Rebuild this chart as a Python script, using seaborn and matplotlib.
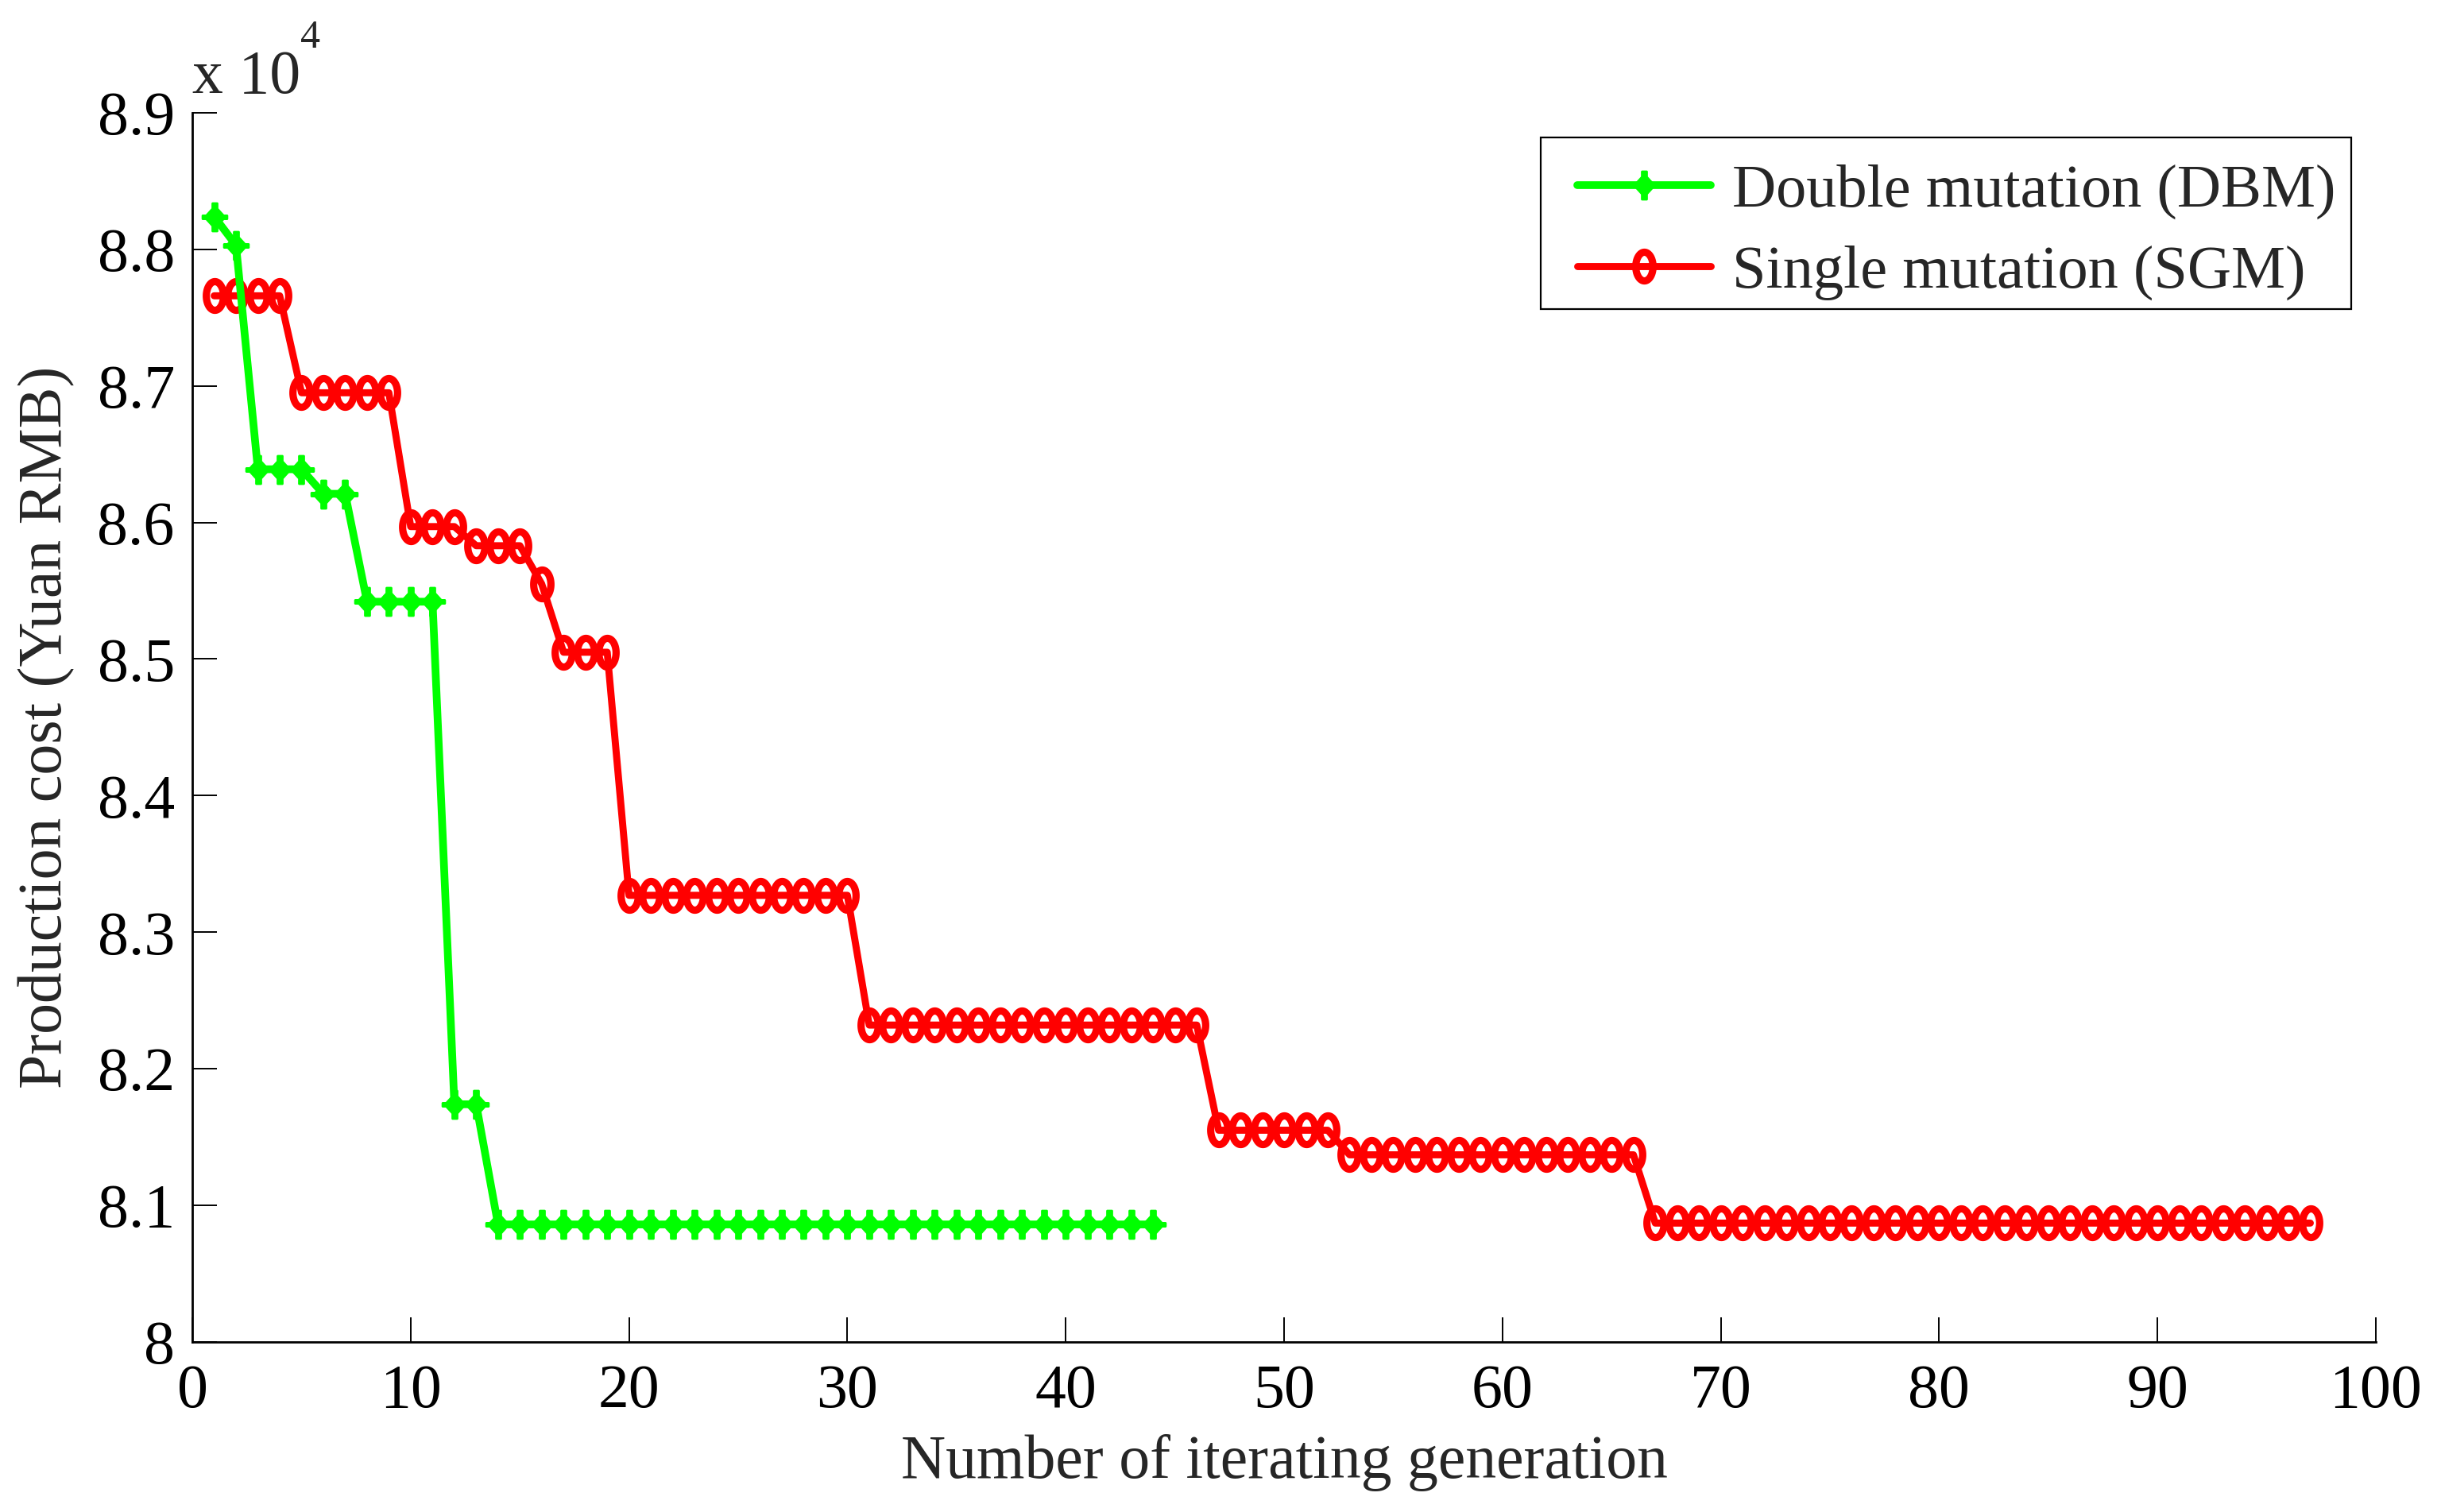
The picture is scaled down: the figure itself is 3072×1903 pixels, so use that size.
import numpy as np
import pandas as pd
import matplotlib
matplotlib.use("Agg")
import matplotlib.pyplot as plt
from matplotlib.path import Path
from matplotlib.patches import Rectangle
from matplotlib.ticker import FuncFormatter
import seaborn as sns

# production cost (Yuan RMB) per iterating generation
dbm_gen = list(range(1, 45))
dbm_cost = [88240, 88030, 86390, 86390, 86390, 86210, 86210, 85420, 85420, 85420,
            85420, 81740, 81740, 80860, 80860, 80860, 80860, 80860, 80860, 80860,
            80860, 80860, 80860, 80860, 80860, 80860, 80860, 80860, 80860, 80860,
            80860, 80860, 80860, 80860, 80860, 80860, 80860, 80860, 80860, 80860,
            80860, 80860, 80860, 80860]

sgm_gen = list(range(1, 98))
sgm_cost = [87660, 87660, 87660, 87660, 86950, 86950, 86950, 86950, 86950, 85970,
            85970, 85970, 85830, 85830, 85830, 85550, 85050, 85050, 85050, 83270,
            83270, 83270, 83270, 83270, 83270, 83270, 83270, 83270, 83270, 83270,
            82320, 82320, 82320, 82320, 82320, 82320, 82320, 82320, 82320, 82320,
            82320, 82320, 82320, 82320, 82320, 82320, 81550, 81550, 81550, 81550,
            81550, 81550, 81370, 81370, 81370, 81370, 81370, 81370, 81370, 81370,
            81370, 81370, 81370, 81370, 81370, 81370, 80870, 80870, 80870, 80870,
            80870, 80870, 80870, 80870, 80870, 80870, 80870, 80870, 80870, 80870,
            80870, 80870, 80870, 80870, 80870, 80870, 80870, 80870, 80870, 80870,
            80870, 80870, 80870, 80870, 80870, 80870, 80870]

x_ticks = [0, 10, 20, 30, 40, 50, 60, 70, 80, 90, 100]
y_ticks = [8, 8.1, 8.2, 8.3, 8.4, 8.5, 8.6, 8.7, 8.8, 8.9]

dbm = pd.DataFrame({"gen": dbm_gen, "cost": np.array(dbm_cost) / 1e4})
sgm = pd.DataFrame({"gen": sgm_gen, "cost": np.array(sgm_cost) / 1e4})

sns.set_style("ticks")
plt.rcParams["font.family"] = ["Liberation Serif", "DejaVu Serif"]

# matlab-like markers (stretched vertically as in the figure)
t = np.linspace(0, 2 * np.pi, 73)
ring = Path(np.column_stack([0.6 * np.cos(t), np.sin(t)]), closed=True)
# filled diamond with short spikes, drawn as one outline
diamond = Path(
    [(-0.17, 1), (0.17, 1), (0.17, 0.614), (0.62, 0.12), (0.88, 0.12),
     (0.88, -0.12), (0.62, -0.12), (0.17, -0.614), (0.17, -1), (-0.17, -1),
     (-0.17, -0.614), (-0.62, -0.12), (-0.88, -0.12), (-0.88, 0.12),
     (-0.62, 0.12), (-0.17, 0.614), (-0.17, 1)],
    closed=True)

green = (0, 1, 0)
red = (1, 0, 0)

fig, ax = plt.subplots(figsize=(15.36, 9.515), dpi=200)
fig.subplots_adjust(left=0.0788, right=0.9733, bottom=0.1125, top=0.9254)

sns.lineplot(data=sgm, x="gen", y="cost", ax=ax, color=red, lw=3.2,
             marker=ring, markersize=13, mfc="none", mec=red, mew=3.3,
             estimator=None, sort=False, zorder=2)
sns.lineplot(data=dbm, x="gen", y="cost", ax=ax, color=green, lw=3.5,
             marker=diamond, markersize=12.6, mfc=green, mec=green, mew=1.0,
             estimator=None, sort=False, zorder=3)

lines = ax.get_lines()
leg = ax.legend([lines[1], lines[0]],
                ["Double mutation (DBM)", "Single mutation (SGM)"],
                loc="upper right", bbox_to_anchor=(0.9887, 0.971), borderaxespad=0,
                fontsize=27.5, frameon=False, handlelength=2.2, handletextpad=0.35,
                labelspacing=0.42, borderpad=0.26)

# legend box as in the figure
ax.add_patch(Rectangle((0.6175, 0.840), 0.3712, 0.140, transform=ax.transAxes,
                       fill=False, edgecolor="black", lw=0.8, clip_on=False, zorder=5))

ax.set_xlim(0, 100)
ax.set_ylim(8, 8.9)
ax.set_xticks(x_ticks)
ax.set_yticks(y_ticks)
ax.yaxis.set_major_formatter(FuncFormatter(lambda v, p: f"{v:g}"))
ax.tick_params(direction="in", length=11, width=0.7, labelsize=28, colors="black")
ax.tick_params(axis="x", pad=10)
ax.tick_params(axis="y", pad=8)
sns.despine(ax=ax)
for s in ["left", "bottom"]:
    ax.spines[s].set_linewidth(1.0)
    ax.spines[s].set_color("black")

ax.set_xlabel("Number of iterating generation", fontsize=28, labelpad=6)
ax.set_ylabel("Production cost (Yuan RMB)", fontsize=28, labelpad=10)

ax.text(0, 1.016, "x 10", transform=ax.transAxes, fontsize=28,
        ha="left", va="baseline")
ax.text(0.0495, 1.053, "4", transform=ax.transAxes, fontsize=18,
        ha="left", va="baseline")

fig.savefig("out.png", dpi=200)
